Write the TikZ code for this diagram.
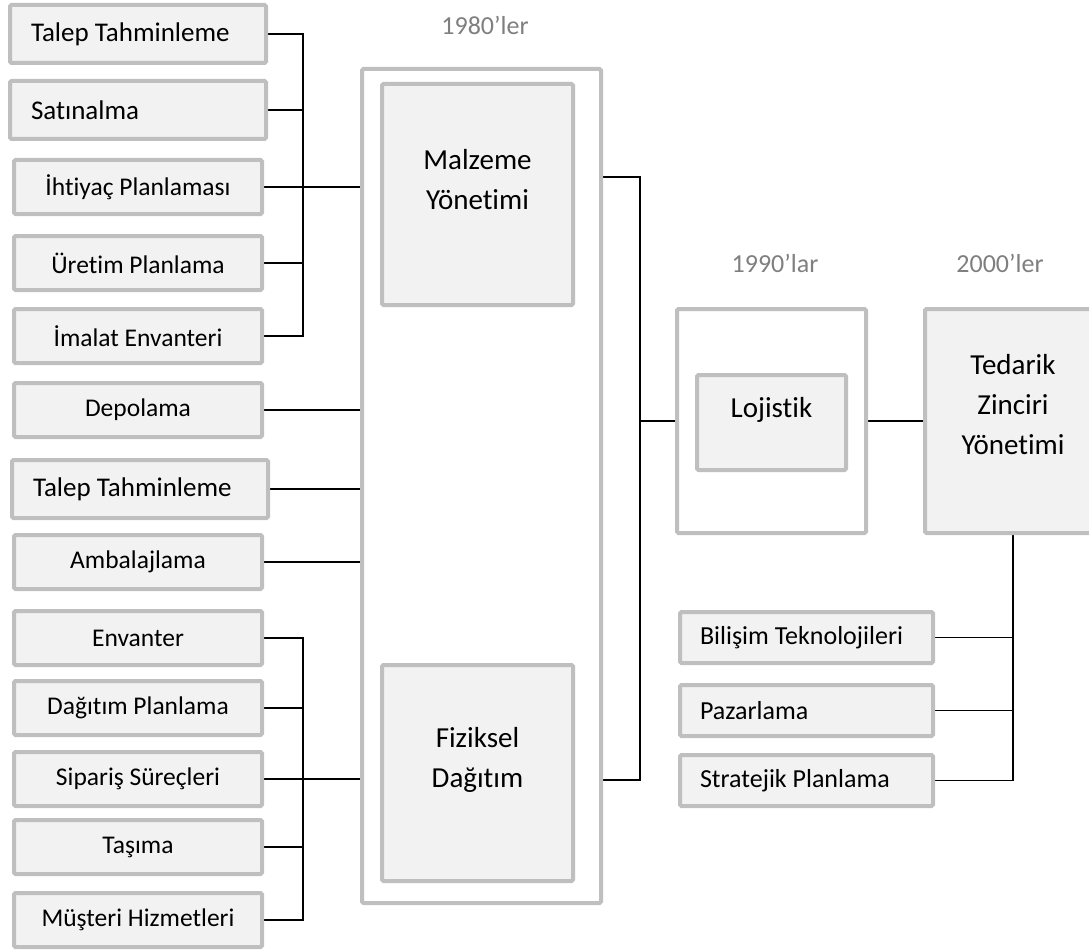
\documentclass[tikz,border=0pt]{standalone}
\usepackage{fontspec}
\setmainfont{Carlito}[Ligatures=NoCommon]
\usetikzlibrary{backgrounds}
\definecolor{kenar}{HTML}{BFBFBF}
\definecolor{dolgu}{HTML}{F2F2F2}
\definecolor{yilrenk}{HTML}{7F7F7F}

\begin{document}
\begin{tikzpicture}[x=1pt, y=-1pt,
    kutu/.style={draw=kenar, line width=4pt, fill=dolgu, rounded corners=1.5pt, inner sep=0pt,
        minimum width=248pt, minimum height=54pt, font=\fontsize{25.5}{30}\selectfont},
    solkutu/.style={kutu, minimum height=58pt, text width=214pt, inner xsep=21pt, align=flush left,
        font=\fontsize{27}{32}\selectfont},
    sagkutu/.style={kutu, minimum height=51pt, text width=213pt, inner xsep=20pt, align=flush left,
        font=\fontsize{26}{30}\selectfont},
    buyukkutu/.style={kutu, align=center, font=\fontsize{29}{40}\selectfont},
    cerceve/.style={draw=kenar, line width=4pt, fill=white, rounded corners=1.5pt, inner sep=0pt},
    yil/.style={text=yilrenk, font=\fontsize{26}{30}\selectfont},
    hat/.style={line width=1.4pt}]
    \useasboundingbox (0,0) rectangle (1089,952);
    \clip (0,0) rectangle (1089,952);

    % sol kutular
    \node[solkutu] (talep1) at (138,34) {Talep Tahminleme};
    \node[solkutu] (satin) at (138,110) {Satınalma};
    \node[kutu] (ihtiyac) at (138,187) {İhtiyaç Planlaması};
    \node[kutu] (uretim) at (138,263) {Üretim Planlama};
    \node[kutu] (imalat) at (138,336) {İmalat Envanteri};
    \node[kutu] (depolama) at (138,410) {Depolama};
    \node[solkutu] (talep2) at (140,489) {Talep Tahminleme};
    \node[kutu] (ambalaj) at (138,562) {Ambalajlama};
    \node[kutu] (envanter) at (138,638) {Envanter};
    \node[kutu] (dagitimpl) at (138,708) {Dağıtım Planlama};
    \node[kutu] (siparis) at (138,779) {Sipariş Süreçleri};
    \node[kutu] (tasima) at (138,847) {Taşıma};
    \node[kutu] (musteri) at (138,920) {Müşteri Hizmetleri};

    % 1980'ler
    \node[cerceve, minimum width=239pt, minimum height=834pt] (donem80) at (481.5,486) {};
    \node[buyukkutu, minimum width=191pt, minimum height=221pt, text depth=31pt] (malzeme) at (477.5,194.5) {Malzeme\\Yönetimi};
    \node[buyukkutu, minimum width=191pt, minimum height=216pt, text depth=32pt] (fiziksel) at (477.5,773) {Fiziksel\\Dağıtım};
    \node[yil] (yil80) at (485,25) {1980’ler};

    % 1990'lar
    \node[cerceve, minimum width=189pt, minimum height=224pt] (lojdis) at (771.5,421) {};
    \node[buyukkutu, minimum width=149pt, minimum height=95pt, text depth=30pt] (lojistik) at (771.5,422.5) {Lojistik};
    \node[yil] (yil90) at (775,263) {1990’lar};

    % 2000'ler
    \node[buyukkutu, minimum width=176pt, minimum height=224pt, text depth=34pt] (tedarik) at (1013,421) {Tedarik\\Zinciri\\Yönetimi};
    \node[yil] (yil00) at (1000,263) {2000’ler};
    \node[sagkutu] (bilisim) at (806.5,637.5) {Bilişim Teknolojileri};
    \node[sagkutu] (pazarlama) at (806.5,710.5) {Pazarlama};
    \node[sagkutu] (strateji) at (806.5,780.5) {Stratejik Planlama};

    \begin{scope}[on background layer]
        \coordinate (busA) at (303,187);
        \coordinate (busB) at (303,779);
        \coordinate (busC) at (640,421);
        \foreach \k in {talep1,satin,uretim,imalat}
            \draw[hat] (\k.east) -| (busA);
        \foreach \k in {envanter,dagitimpl,tasima,musteri}
            \draw[hat] (\k.east) -| (busB);
        \foreach \k in {ihtiyac,depolama,talep2,ambalaj,siparis}
            \draw[hat] (\k.east) -- (donem80.west |- \k.east);
        \draw[hat] (donem80.east |- 0,177) -| (busC) |- (donem80.east |- 0,780);
        \draw[hat] (busC) -- (lojdis.west);
        \draw[hat] (lojdis.east) -- (tedarik.west);
        \draw[hat] (tedarik.south) -- (tedarik.south |- strateji.east);
        \foreach \k in {bilisim,pazarlama,strateji}
            \draw[hat] (\k.east) -- (tedarik.south |- \k.east); % sag kutular
    \end{scope}
\end{tikzpicture}
\end{document}
